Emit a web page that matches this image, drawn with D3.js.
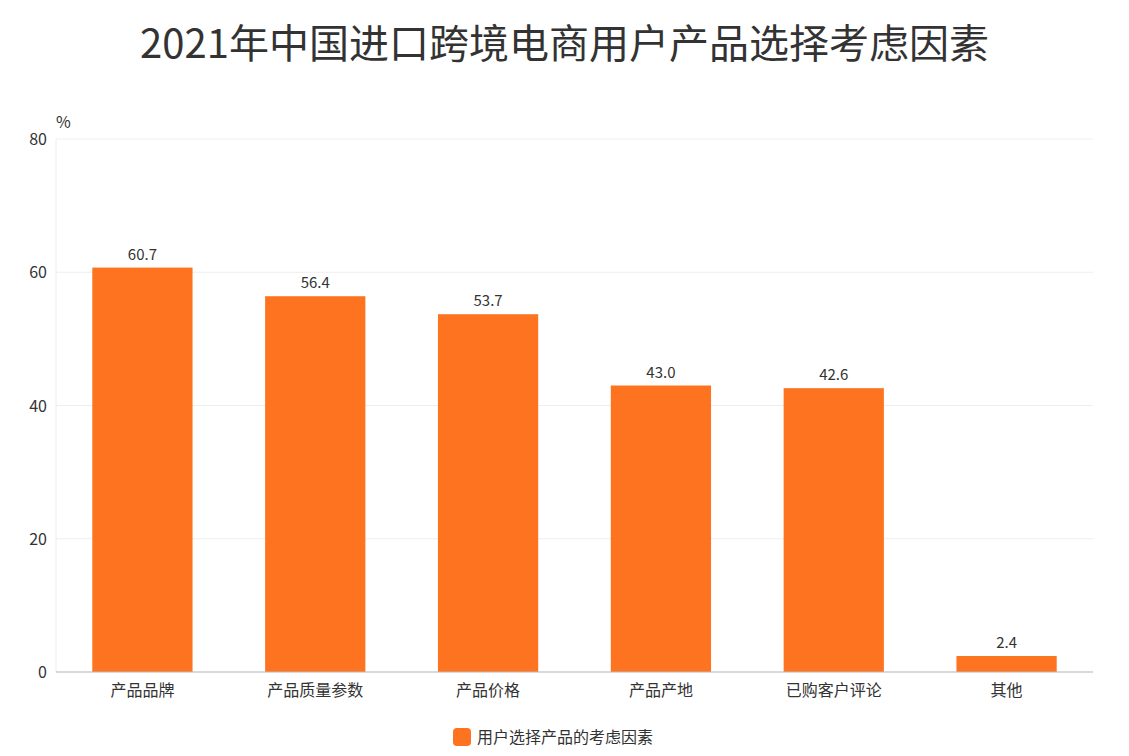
<!DOCTYPE html>
<html><head><meta charset="utf-8">
<script src="https://cdn.jsdelivr.net/npm/d3@7"></script>
<style>body{margin:0;background:#fff;font-family:"Noto Sans CJK SC","Noto Sans",sans-serif;}</style>
</head><body><div id="chart"></div>
<script>
const categories = ["产品品牌","产品质量参数","产品价格","产品产地","已购客户评论","其他"];
const values = [60.7,56.4,53.7,43.0,42.6,2.4];
const yTicks = [0,20,40,60,80];
const seriesName = "用户选择产品的考虑因素";

const W = 1129, H = 756;
const m = {top: 139, right: 36, bottom: 84, left: 56};
const svg = d3.select("#chart").append("svg").attr("width", W).attr("height", H);
const color = "#fd7320";

svg.append("text").attr("x", W/2).attr("y", 58).attr("text-anchor","middle")
  .attr("font-size", 40).attr("fill","#333").text("2021年中国进口跨境电商用户产品选择考虑因素");

const x = d3.scaleBand().domain(categories).range([m.left, W - m.right]).paddingInner(0.42).paddingOuter(0.21);
const y = d3.scaleLinear().domain([0,80]).range([H - m.bottom, m.top]);

const g = svg.append("g");
g.selectAll("line.grid").data(yTicks).enter().append("line")
  .attr("x1", m.left).attr("x2", W - m.right).attr("y1", d=>y(d)).attr("y2", d=>y(d))
  .attr("stroke","#eee");
g.append("line").attr("x1", m.left).attr("x2", m.left).attr("y1", y(0)).attr("y2", y(80)).attr("stroke","#eee");

g.selectAll("text.yt").data(yTicks).enter().append("text")
  .attr("x", m.left - 9).attr("y", d=>y(d)+6).attr("text-anchor","end")
  .attr("font-size",16).attr("fill","#333").text(d=>d);
svg.append("text").attr("x", m.left).attr("y", 128).attr("font-size",16).attr("fill","#333").text("%");

g.selectAll("rect.bar").data(values).enter().append("rect")
  .attr("x",(d,i)=>x(categories[i])).attr("width", x.bandwidth())
  .attr("y", d=>y(d)).attr("height", d=>y(0)-y(d)).attr("fill", color);
g.selectAll("text.lab").data(values).enter().append("text")
  .attr("x",(d,i)=>x(categories[i])+x.bandwidth()/2).attr("y", d=>y(d)-8)
  .attr("text-anchor","middle").attr("font-size",15).attr("fill","#333").text(d=>d.toFixed(1));

g.append("line").attr("x1", m.left).attr("x2", W - m.right).attr("y1", y(0)).attr("y2", y(0)).attr("stroke","#bbb");
g.selectAll("text.xt").data(categories).enter().append("text")
  .attr("x", d=>x(d)+x.bandwidth()/2).attr("y", y(0)+24).attr("text-anchor","middle")
  .attr("font-size",16).attr("fill","#333").text(d=>d);

const lg = svg.append("g").attr("transform","translate(453,728)");
lg.append("rect").attr("width",18).attr("height",18).attr("rx",4).attr("fill",color);
lg.append("text").attr("x",24).attr("y",15).attr("font-size",16).attr("fill","#333").text(seriesName);
</script></body></html>
